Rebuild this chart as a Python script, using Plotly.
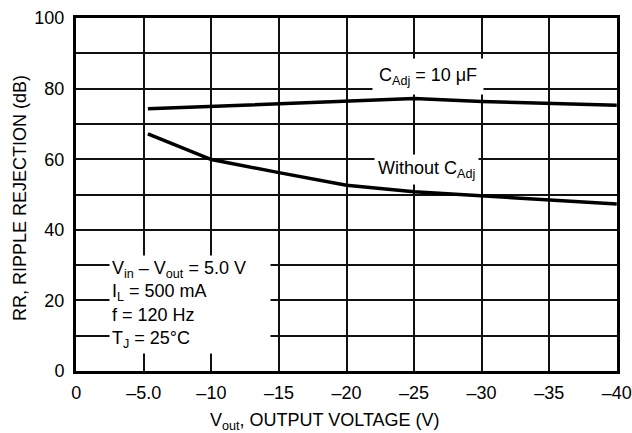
import plotly.graph_objects as go

# Data
x_cadj = [-5.3, -10, -15, -20, -25, -30, -35, -40]
rr_cadj = [74.3, 75.0, 75.9, 76.6, 77.2, 76.4, 75.8, 75.3]
x_none = [-5.3, -10, -15, -20, -25, -30, -35, -40]
rr_none = [67.2, 59.9, 56.2, 52.6, 50.8, 49.6, 48.6, 47.3]

x_ticks = [0, -5, -10, -15, -20, -25, -30, -35, -40]
x_ticktext = ["0", "–5.0", "–10", "–15", "–20", "–25", "–30", "–35", "–40"]
y_ticks = [0, 10, 20, 30, 40, 50, 60, 70, 80, 90, 100]
y_ticktext = ["0", "", "20", "", "40", "", "60", "", "80", "", "100"]

FONT = "Liberation Sans Narrow, Arial Narrow, Liberation Sans, Arial, sans-serif"
W, H = 632, 433
L, R, T, B = 76, 15, 18, 62
pw, ph = W - L - R, H - T - B

fig = go.Figure()
for xs, ys in [(x_cadj, rr_cadj), (x_none, rr_none)]:
    fig.add_trace(go.Scatter(x=xs, y=ys, mode="lines",
                             line=dict(color="black", width=3.5),
                             showlegend=False, hoverinfo="skip"))

def px2paper_x(px):
    return (px - L) / pw

def px2paper_y(py):
    return (H - B - py) / ph

annotations = [
    dict(x=-26.0, y=83.6, xref="x", yref="y",
         text="C<sub>Adj</sub> = 10 μF", showarrow=False,
         font=dict(family=FONT, size=18, color="black"),
         bgcolor="white", borderpad=6),
    dict(x=-25.9, y=57.2, xref="x", yref="y",
         text="Without C<sub>Adj</sub>", showarrow=False,
         font=dict(family=FONT, size=18, color="black"),
         bgcolor="white", borderpad=3),
    dict(x=-2.45, y=18.9, xref="x", yref="y", xanchor="left",
         text="V<sub>in</sub> – V<sub>out</sub> = 5.0 V<br>I<sub>L</sub> = 500 mA<br>f = 120 Hz<br>T<sub>J</sub> = 25°C",
         align="left", showarrow=False, width=156,
         font=dict(family=FONT, size=18, color="black"),
         bgcolor="white", borderpad=2),
    dict(x=px2paper_x(325), y=px2paper_y(421), xref="paper", yref="paper",
         xanchor="center", yanchor="middle",
         text="V<sub>out</sub>, OUTPUT VOLTAGE (V)", showarrow=False,
         font=dict(family=FONT, size=18, color="black")),
    dict(x=px2paper_x(20), y=0.49, xref="paper", yref="paper",
         xanchor="center", yanchor="middle",
         text="RR, RIPPLE REJECTION (dB)", showarrow=False, textangle=-90,
         font=dict(family=FONT, size=18, color="black")),
]

fig.update_layout(
    width=W, height=H,
    margin=dict(l=L, r=R, t=T, b=B, autoexpand=False),
    paper_bgcolor="white", plot_bgcolor="white",
    font=dict(family=FONT, size=18, color="black"),
    annotations=annotations,
)
fig.update_xaxes(range=[0.02, -40.02], tickvals=x_ticks, ticktext=x_ticktext,
                 showgrid=True, gridcolor="#111", gridwidth=1.8,
                 showline=True, linecolor="black", linewidth=3, mirror=True,
                 zeroline=False, ticks="", ticklabelstandoff=3, automargin=False,
                 tickfont=dict(family=FONT, size=18, color="black"))
fig.update_yaxes(range=[-0.05, 100.05], tickvals=y_ticks, ticktext=y_ticktext,
                 showgrid=True, gridcolor="#111", gridwidth=1.8,
                 showline=True, linecolor="black", linewidth=3, mirror=True,
                 zeroline=False, ticks="", ticklabelstandoff=5, automargin=False,
                 tickfont=dict(family=FONT, size=18, color="black"))
fig.write_html("out.html")
